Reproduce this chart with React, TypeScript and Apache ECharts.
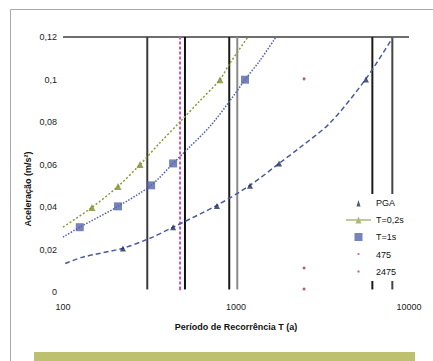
import React, { useEffect, useRef } from "react";
import * as echarts from "echarts";

// Marker series (return period T in years, acceleration)
const pgaT = [222, 433, 776, 1205, 1774, 5636];
const pgaA = [0.0205, 0.0305, 0.0405, 0.05, 0.0605, 0.1];
const t02T = [147, 208, 279, 808];
const t02A = [0.0398, 0.0497, 0.06, 0.0999];
const t1T = [125, 208, 323, 433, 1127];
const t1A = [0.0305, 0.0403, 0.0502, 0.0605, 0.0999];

// Trend lines
const pgaTrendT = [103, 130, 222, 318, 433, 776, 1205, 1774, 2344, 3491, 5636, 8083];
const pgaTrendA = [0.0134, 0.0164, 0.0206, 0.0253, 0.0305, 0.0408, 0.0502, 0.0605, 0.068, 0.0795, 0.1003, 0.12];
const t02TrendT = [100, 147, 208, 279, 364, 474, 619, 808, 911, 1172];
const t02TrendA = [0.0305, 0.0398, 0.0497, 0.06, 0.0703, 0.08, 0.09, 0.0999, 0.107, 0.12];
const t1TrendT = [100, 125, 208, 323, 433, 521, 708, 923, 1127, 1377, 1702];
const t1TrendA = [0.0258, 0.0305, 0.0403, 0.0502, 0.0605, 0.067, 0.078, 0.09, 0.0999, 0.109, 0.12];

// Reference lines
const verticalT = [307, 507, 914, 1017, 6140, 8010];
const verticalColors = ["#3a3a3a", "#111111", "#1a1a1a", "#8a8a8a", "#1a1a1a", "#444444"];
const r475T = [475, 475];
const r475A = [0.0012, 0.12];
const r2475T = [2475, 2475, 2475];
const r2475A = [0.1003, 0.0113, 0.0014];
const topLineT = [100, 10000];
const topLineA = [0.12, 0.12];

const legendNames = ["PGA", "T=0,2s", "T=1s", "475", "2475"];
const yTitle = "Aceleração (m/s²)";
const xTitle = "Período de Recorrência T (a)";

const zip = (xs: number[], ys: number[]) => xs.map((x, i) => [x, ys[i]]);

const FONT = "Arial, 'Liberation Sans', sans-serif";

export default function App() {
  const ref = useRef<HTMLDivElement>(null);
  useEffect(() => {
    if (!ref.current) return;
    const chart = echarts.init(ref.current, undefined, { renderer: "svg" });
    const series: any[] = [];
    series.push({
      name: "top",
      type: "line",
      data: zip(topLineT, topLineA),
      symbol: "none",
      lineStyle: { color: "#6e6e6e", width: 2 },
      z: 1,
    });
    verticalT.forEach((t, i) => {
      series.push({
        name: "v" + i,
        type: "line",
        data: [
          [t, 0.0012],
          [t, 0.12],
        ],
        symbol: "none",
        lineStyle: { color: verticalColors[i], width: 2 },
        z: 1,
      });
    });
    series.push({
      name: "475",
      type: "line",
      data: zip(r475T, r475A),
      symbol: "circle",
      symbolSize: 2,
      itemStyle: { color: "#c957c0" },
      lineStyle: { color: "#c957c0", width: 2, type: [3, 2] },
      z: 2,
    });
    series.push({
      name: "2475",
      type: "scatter",
      data: zip(r2475T, r2475A),
      symbol: "circle",
      symbolSize: 3,
      itemStyle: { color: "#a83a3a" },
      z: 3,
    });
    series.push({
      name: "pgaTrend",
      type: "line",
      data: zip(pgaTrendT, pgaTrendA),
      symbol: "none",
      smooth: 0.3,
      lineStyle: { color: "#4a5aa0", width: 1.5, type: [5, 3] },
      z: 3,
    });
    series.push({
      name: "t02Trend",
      type: "line",
      data: zip(t02TrendT, t02TrendA),
      symbol: "none",
      smooth: 0.3,
      lineStyle: { color: "#8c9a34", width: 1.5, type: [2, 2] },
      z: 3,
    });
    series.push({
      name: "t1Trend",
      type: "line",
      data: zip(t1TrendT, t1TrendA),
      symbol: "none",
      smooth: 0.3,
      lineStyle: { color: "#5060b0", width: 1.5, type: [1.5, 1.5] },
      z: 3,
    });
    series.push({
      name: "PGA",
      type: "scatter",
      data: zip(pgaT, pgaA),
      symbol: "triangle",
      symbolSize: 6,
      itemStyle: { color: "#1f2d5e" },
      z: 4,
    });
    series.push({
      name: "T=0,2s",
      type: "scatter",
      data: zip(t02T, t02A),
      symbol: "triangle",
      symbolSize: 7,
      itemStyle: { color: "#7f8c2e" },
      z: 4,
    });
    series.push({
      name: "T=1s",
      type: "scatter",
      data: zip(t1T, t1A),
      symbol: "rect",
      symbolSize: 8,
      itemStyle: { color: "#5565a8" },
      z: 4,
    });

    const option: any = {
      animation: false,
      backgroundColor: "#ffffff",
      textStyle: { fontFamily: FONT },
      graphic: [
        {
          type: "rect",
          shape: { x: 10.5, y: 9.5, width: 440, height: 370 },
          style: { fill: "none", stroke: "#a8a8a8", lineWidth: 1 },
          z: -10,
        },
        {
          type: "rect",
          shape: { x: 34, y: 352, width: 381, height: 20 },
          style: { fill: "#bdc06e" },
          z: -10,
        },
        {
          type: "text",
          x: 28,
          y: 189,
          rotation: Math.PI / 2,
          style: {
            text: yTitle,
            align: "center",
            verticalAlign: "middle",
            fontSize: 9,
            fontWeight: "bold",
            fill: "#111",
            fontFamily: FONT,
          },
        },
      ],
      grid: { left: 63, right: 24, top: 37, bottom: 69 },
      legend: {
        orient: "vertical",
        left: 346,
        top: 194,
        padding: [4, 6, 4, 0],
        itemWidth: 25,
        itemHeight: 10,
        itemGap: 7.5,
        backgroundColor: "#ffffff",
        textStyle: { fontSize: 9, color: "#111", fontFamily: FONT },
        data: [
          { name: legendNames[0], icon: "path://M0,0M25,10M10.5,8.5L12.5,2L14.5,8.5Z", itemStyle: { color: "#1f2d5e" } },
          { name: legendNames[1], icon: "path://M0,4.2h25v1.6h-25zM12.5,1.5L15.5,8.5L9.5,8.5Z", itemStyle: { color: "#9aa55a" } },
          { name: legendNames[2], icon: "path://M0,0M25,10M8.5,1h8v8h-8z", itemStyle: { color: "#5565a8" } },
          { name: legendNames[3], icon: "path://M0,0M25,10M11.5,3.5h2v2h-2z", itemStyle: { color: "#d070c8" } },
          { name: legendNames[4], icon: "path://M0,0M25,10M11.5,3.5h2v2h-2z", itemStyle: { color: "#a83a3a" } },
        ],
      },
      xAxis: {
        type: "log",
        logBase: 10,
        min: 100,
        max: 10000,
        name: xTitle,
        nameLocation: "middle",
        nameGap: 30,
        nameTextStyle: { fontSize: 9, fontWeight: "bold", color: "#111", fontFamily: FONT },
        axisLine: { show: false },
        axisTick: { show: false },
        splitLine: { show: false },
        axisLabel: {
          fontSize: 9,
          color: "#222",
          margin: 10,
          fontFamily: FONT,
          formatter: (v: number) => String(Math.round(v)),
        },
      },
      yAxis: {
        type: "value",
        min: 0,
        max: 0.12,
        interval: 0.02,
        axisLine: { show: false },
        axisTick: { show: false },
        splitLine: { show: false },
        axisLabel: {
          fontSize: 9,
          color: "#222",
          margin: 6,
          fontFamily: FONT,
          formatter: (v: number) => String(+v.toFixed(2)).replace(".", ","),
        },
      },
      series,
    };
    chart.setOption(option);
    return () => chart.dispose();
  }, []);
  return <div ref={ref} style={{ width: 433, height: 361, position: "absolute", left: 0, top: 0 }} />;
}
